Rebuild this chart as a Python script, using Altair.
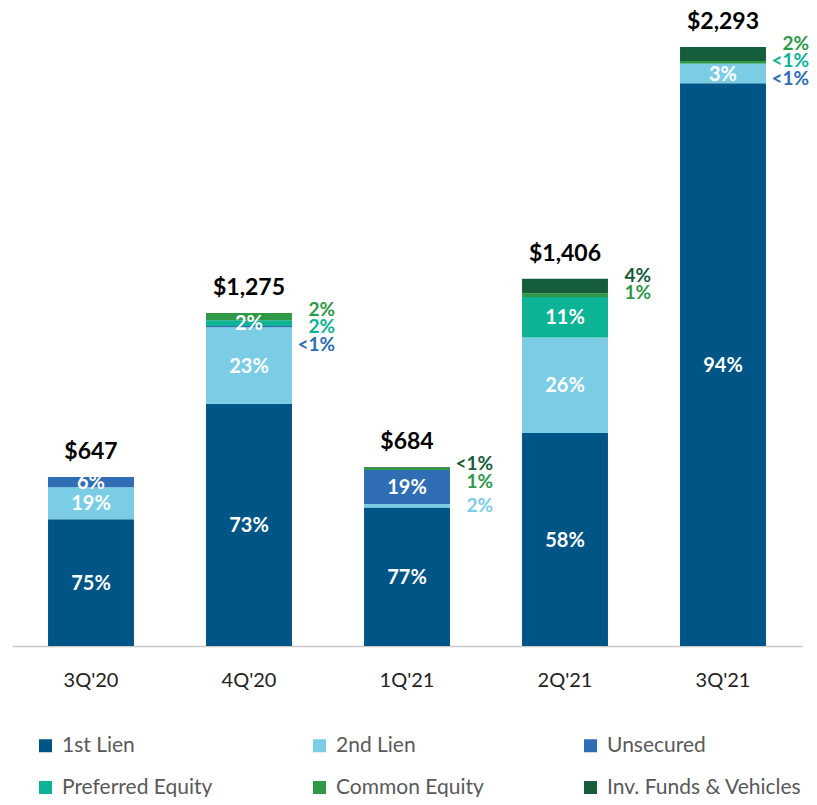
import altair as alt
import pandas as pd

quarters = ["3Q'20", "4Q'20", "1Q'21", "2Q'21", "3Q'21"]
series = ["1st Lien", "2nd Lien", "Unsecured", "Preferred Equity", "Common Equity", "Inv. Funds & Vehicles"]
series_colors = ["#005587", "#7bcde6", "#2f6db5", "#0cb394", "#2e9a47", "#165e3b"]

# segment amounts ($M)
first_lien = [485, 927, 530, 815, 2154]
second_lien = [123, 293, 14, 366, 74]
unsecured = [39, 5, 130, 0, 1]
preferred = [0, 22, 0, 155, 1]
common = [0, 28, 7, 14, 9]
inv_funds = [0, 0, 3, 56, 54]
total_text = ["$647", "$1,275", "$684", "$1,406", "$2,293"]

# labels shown inside the segments
in_first = ["75%", "73%", "77%", "58%", "94%"]
in_second = ["19%", "23%", "", "26%", "3%"]
in_unsec = ["6%", "", "19%", "", ""]
in_pref = ["", "2%", "", "11%", ""]
in_common = ["", "", "", "", ""]
in_inv = ["", "", "", "", ""]

# labels shown to the right of the bars
out_quarter = ["4Q'20", "4Q'20", "4Q'20", "1Q'21", "1Q'21", "1Q'21", "2Q'21", "2Q'21", "3Q'21", "3Q'21", "3Q'21"]
out_series = ["Common Equity", "Preferred Equity", "Unsecured", "Inv. Funds & Vehicles", "Common Equity", "2nd Lien",
              "Inv. Funds & Vehicles", "Common Equity", "Common Equity", "Preferred Equity", "Unsecured"]
out_text = ["2%", "2%", "<1%", "<1%", "1%", "2%", "4%", "1%", "2%", "<1%", "<1%"]
out_slot = [0, 1, 2, 0, 1, -1, 0, 1, 0, 1, 2]  # -1: next to its own segment

values = [first_lien, second_lien, unsecured, preferred, common, inv_funds]
inside = [in_first, in_second, in_unsec, in_pref, in_common, in_inv]
color_of = dict(zip(series, series_colors))

rows = []
for qi, q in enumerate(quarters):
    base = 0
    for si, s in enumerate(series):
        v = values[si][qi]
        rows.append(dict(quarter=q, series=s, y0=base, y1=base + v, mid=base + v / 2,
                         label=inside[si][qi]))
        base += v
seg = pd.DataFrame(rows)
totals = [sum(values[si][qi] for si in range(len(series))) for qi in range(len(quarters))]
tot_df = pd.DataFrame({"quarter": quarters, "total": totals, "text": total_text})

out_rows = []
for q, s, t, sl in zip(out_quarter, out_series, out_text, out_slot):
    qi = quarters.index(q)
    if sl < 0:
        r = seg[(seg.quarter == q) & (seg.series == s)].iloc[0]
        y = r["mid"]
    else:
        y = totals[qi]
    out_rows.append(dict(quarter=q, text=t, col=color_of[s], slot=sl, y=y))
out_df = pd.DataFrame(out_rows)

FONT = "Lato"
x_enc = alt.X("quarter:N", sort=quarters,
              scale=alt.Scale(paddingInner=0.456, paddingOuter=0.228),
              axis=alt.Axis(title=None, labelAngle=0, ticks=False, labelFont=FONT, labelFontSize=20,
                            labelColor="#222222", labelPadding=24, domainColor="#c8c8c8", domainWidth=1.5))
y_scale = alt.Scale(domain=[0, 2400])

bars = alt.Chart(seg).mark_bar().encode(
    x=x_enc,
    y=alt.Y("y0:Q", scale=y_scale, axis=None),
    y2="y1:Q",
    color=alt.Color("series:N", sort=series,
                    scale=alt.Scale(domain=series, range=series_colors),
                    legend=alt.Legend(title=None, orient="none", legendX=23, legendY=716, columns=3,
                                      direction="horizontal",
                                      columnPadding=96, rowPadding=20, symbolType="square", symbolSize=169,
                                      symbolStrokeWidth=0, symbolOpacity=1, labelFont=FONT, labelFontSize=21,
                                      labelColor="#595959", labelOffset=6, padding=0, labelLimit=300)),
)

inner = alt.Chart(seg[seg.label != ""]).mark_text(
    font=FONT, fontWeight="bold", fontSize=20, color="white", baseline="middle", dy=1
).encode(x=x_enc, y=alt.Y("mid:Q", scale=y_scale), text="label:N")

tot = alt.Chart(tot_df).mark_text(
    font=FONT, fontWeight="bold", fontSize=23, color="black", baseline="middle", dy=-25
).encode(x=x_enc, y=alt.Y("total:Q", scale=y_scale), text="text:N")

layers = [bars, inner, tot]
for sl in sorted(set(out_slot)):
    dy = 0 if sl < 0 else -3 + 17.5 * sl
    layers.append(
        alt.Chart(out_df[out_df.slot == sl]).mark_text(
            font=FONT, fontWeight="bold", fontSize=19, align="right", baseline="middle", dx=86, dy=dy
        ).encode(x=x_enc, y=alt.Y("y:Q", scale=y_scale), text="text:N",
                 color=alt.Color("col:N", scale=None))
    )

chart = alt.layer(*layers).properties(
    width=790, height=627,
    padding={"left": 4, "top": 11, "right": 7, "bottom": 151},
    autosize=alt.AutoSizeParams(type="none"),
).configure_view(stroke=None)

chart.save("out.html", embed_options={"renderer": "svg", "actions": False})
